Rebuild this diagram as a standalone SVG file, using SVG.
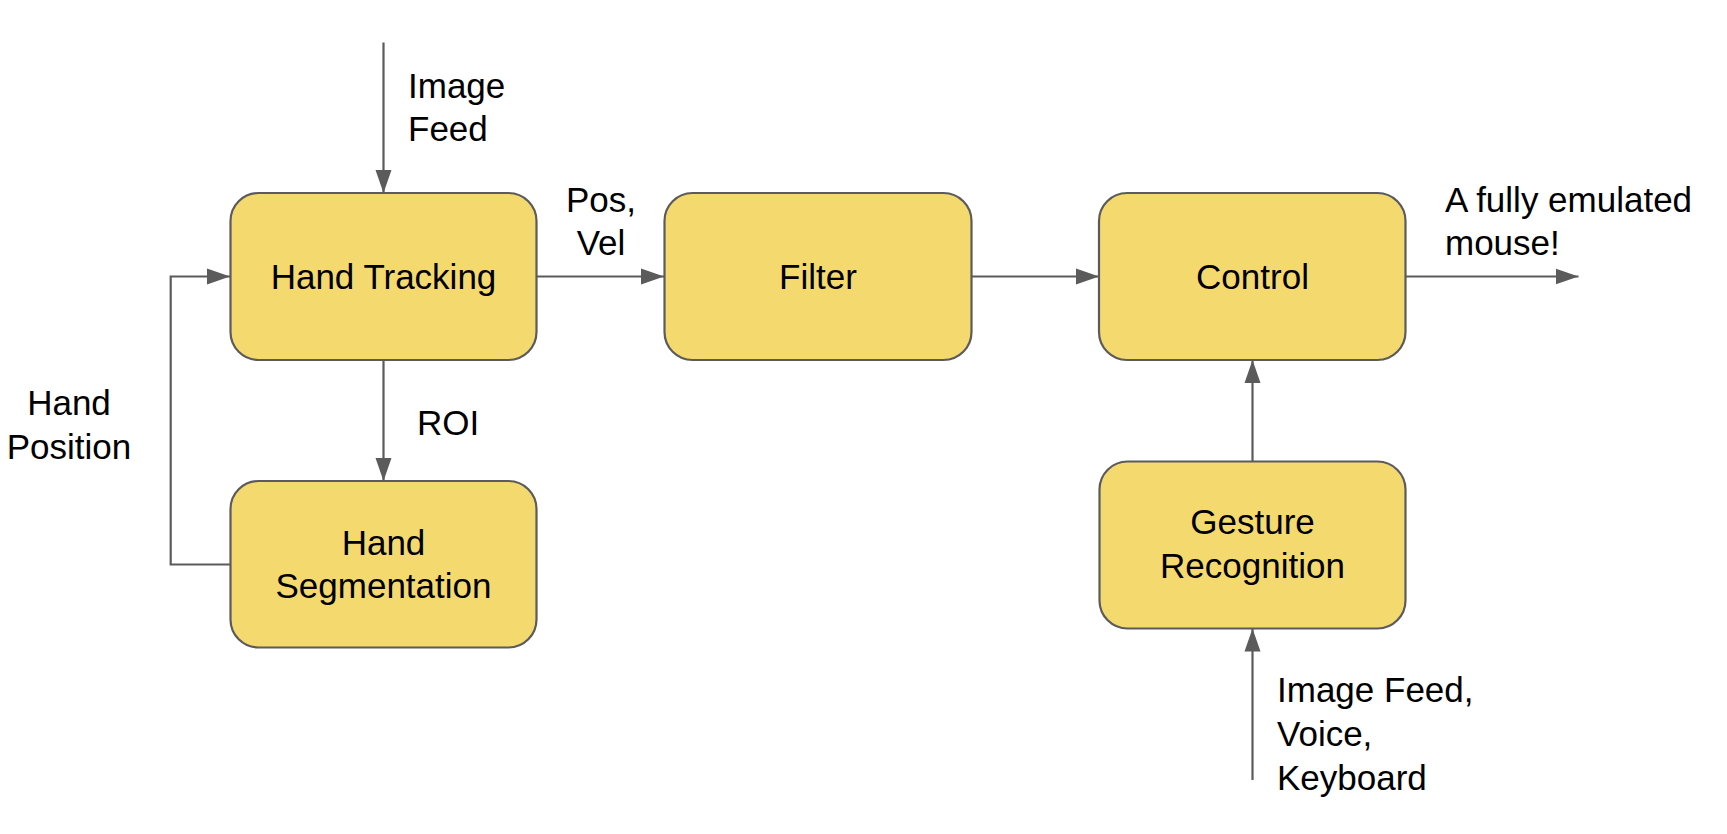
<svg xmlns="http://www.w3.org/2000/svg" width="1727" height="834" viewBox="0 0 1727 834">
<style>
.box{fill:#f4d96f;stroke:#5b5b5b;stroke-width:2.2}
.t{font-family:"Liberation Sans",Arial,sans-serif;font-size:35px;fill:#000}
.c{text-anchor:middle}
.ln{fill:none;stroke:#5b5b5b;stroke-width:2.2}
</style>
<defs>
<marker id="ah" markerUnits="userSpaceOnUse" markerWidth="24" markerHeight="18" refX="23" refY="8.5" orient="auto">
<path d="M0,0.5 L23,8.5 L0,16.5 z" fill="#5b5b5b"/>
</marker>
</defs>
<rect width="1727" height="834" fill="#fff"/>
<g id="connectors">
<line class="ln" x1="383.5" y1="42.5" x2="383.5" y2="193" marker-end="url(#ah)"/>
<line class="ln" x1="536.5" y1="276.5" x2="664" y2="276.5" marker-end="url(#ah)"/>
<line class="ln" x1="971.5" y1="276.5" x2="1099" y2="276.5" marker-end="url(#ah)"/>
<line class="ln" x1="1405.5" y1="276.5" x2="1578.5" y2="276.5" marker-end="url(#ah)"/>
<line class="ln" x1="383.5" y1="360" x2="383.5" y2="481" marker-end="url(#ah)"/>
<polyline class="ln" points="230,564.5 170.7,564.5 170.7,276.5 230,276.5" marker-end="url(#ah)"/>
<line class="ln" x1="1252.5" y1="461.5" x2="1252.5" y2="360" marker-end="url(#ah)"/>
<line class="ln" x1="1252.5" y1="780" x2="1252.5" y2="628.5" marker-end="url(#ah)"/>
<text class="t" x="408" y="98">Image</text>
<text class="t" x="408" y="141">Feed</text>
<text class="t c" x="601" y="211.5">Pos,</text>
<text class="t c" x="601" y="254.5">Vel</text>
<text class="t" x="1445" y="211.5">A fully emulated</text>
<text class="t" x="1445" y="254.5">mouse!</text>
<text class="t" x="417" y="435">ROI</text>
<text class="t c" x="69" y="415">Hand</text>
<text class="t c" x="69" y="459">Position</text>
<text class="t" x="1277" y="702">Image Feed,</text>
<text class="t" x="1277" y="746">Voice,</text>
<text class="t" x="1277" y="790">Keyboard</text>
</g>
<g id="hand-tracking">
<rect class="box" x="230.5" y="193" width="306" height="167" rx="28"/>
<text class="t c" x="383.5" y="288.5">Hand Tracking</text>
</g>
<g id="filter">
<rect class="box" x="664.5" y="193" width="307" height="167" rx="28"/>
<text class="t c" x="818" y="289">Filter</text>
</g>
<g id="control">
<rect class="box" x="1099" y="193" width="306.5" height="167" rx="28"/>
<text class="t c" x="1252.5" y="289">Control</text>
</g>
<g id="hand-segmentation">
<rect class="box" x="230.5" y="481" width="306" height="166.5" rx="28"/>
<text class="t c" x="383.5" y="555">Hand</text>
<text class="t c" x="383.5" y="598">Segmentation</text>
</g>
<g id="gesture-recognition">
<rect class="box" x="1099.5" y="461.5" width="306" height="167" rx="28"/>
<text class="t c" x="1252.5" y="534">Gesture</text>
<text class="t c" x="1252.5" y="578">Recognition</text>
</g>
</svg>
